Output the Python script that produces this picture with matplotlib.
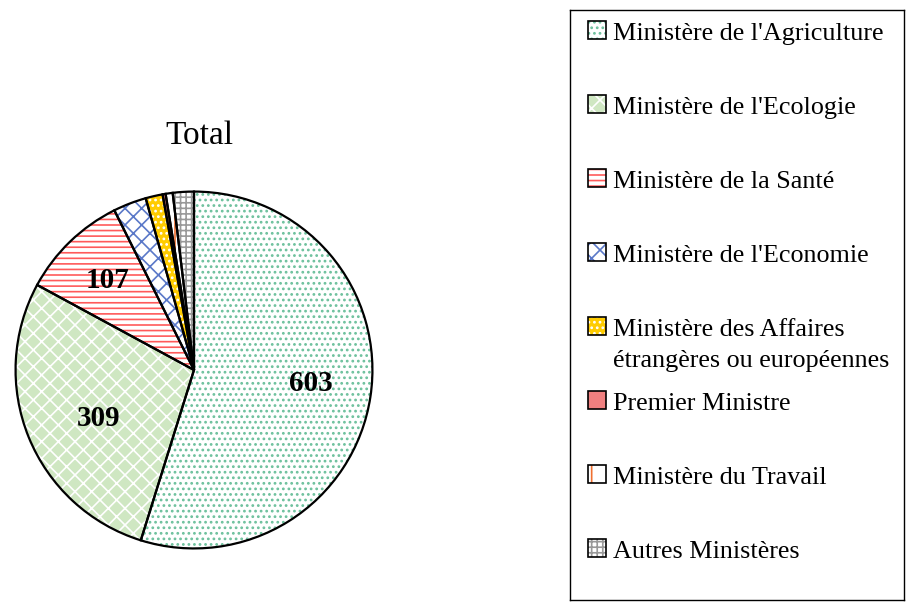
import matplotlib
matplotlib.use("Agg")
import numpy as np
import matplotlib.pyplot as plt
from matplotlib.patches import Rectangle

plt.rcParams['font.family'] = ['Liberation Serif', 'DejaVu Serif']
plt.rcParams['hatch.linewidth'] = 1.2

# Données
ministeres = ["Ministère de l'Agriculture", "Ministère de l'Ecologie",
              "Ministère de la Santé", "Ministère de l'Economie",
              "Ministère des Affaires\nétrangères ou européennes",
              "Premier Ministre", "Ministère du Travail", "Autres Ministères"]
valeurs = [603, 309, 107, 33, 17, 3, 7, 21]
etiquettes = ["603", "309", "107", "", "", "", "", ""]

# Styles
fonds = ['white', '#cfe7c2', 'white', 'white', '#ffcc00', '#f08080', 'white', 'white']
motifs = ['...', 'xx', '---', 'xx', '...', '', '|', '+++']
couleurs_motif = ['#6cc09c', 'white', '#ff5a5a', '#5a78c8', 'white', '#f08080', '#f07030', '#999999']

fig = plt.figure(figsize=(9.06, 6.07), dpi=100)
W, H = 906, 607

# ---- camembert ----
cx, cy, r = 194, 370, 182
ax = fig.add_axes([(cx - r) / W, (H - cy - r) / H, 2 * r / W, 2 * r / H])
wedges, _ = ax.pie(valeurs, startangle=90, counterclock=False, radius=1,
                   colors=fonds, wedgeprops=dict(linewidth=0))
for w, m, c in zip(wedges, motifs, couleurs_motif):
    w.set_hatch(m)
    w.set_edgecolor(c)
wedges2, _ = ax.pie(valeurs, startangle=90, counterclock=False, radius=1,
                    wedgeprops=dict(fill=False, edgecolor='black', linewidth=1.6))
ax.set_xlim(-1.02, 1.02)
ax.set_ylim(-1.02, 1.02)
ax.set_aspect('equal')

# distance au centre et décalage angulaire des étiquettes
dist = [0.66, 0.60, 0.70]
decal = [2, 5, 0]
for i, w in enumerate(wedges2[:3]):
    a = np.deg2rad((w.theta1 + w.theta2) / 2 + decal[i])
    ax.text(dist[i] * np.cos(a), dist[i] * np.sin(a), etiquettes[i],
            ha='center', va='center', fontsize=21, fontweight='bold')

fig.text(199 / W, 1 - 136 / H, "Total", ha='center', va='center', fontsize=24)

# ---- légende ----
lx0, ly0, lx1, ly1 = 570, 10, 904, 600
lg = fig.add_axes([lx0 / W, 1 - ly1 / H, (lx1 - lx0) / W, (ly1 - ly0) / H])
lg.set_xlim(lx0, lx1)
lg.set_ylim(ly1, ly0)
lg.set_xticks([])
lg.set_yticks([])
for s in lg.spines.values():
    s.set_linewidth(1.0)

for i, nom in enumerate(ministeres):
    base = 40 + i * 74
    lg.add_patch(Rectangle((588, base - 19), 18, 18, facecolor=fonds[i], hatch=motifs[i],
                           edgecolor=couleurs_motif[i], linewidth=0))
    lg.add_patch(Rectangle((588, base - 19), 18, 18, fill=False, edgecolor='black', linewidth=1.2))
    for k, ligne in enumerate(nom.split('\n')):
        lg.text(613, base + k * 31, ligne, ha='left', va='baseline', fontsize=18.8)

fig.savefig("out.png", dpi=100)
